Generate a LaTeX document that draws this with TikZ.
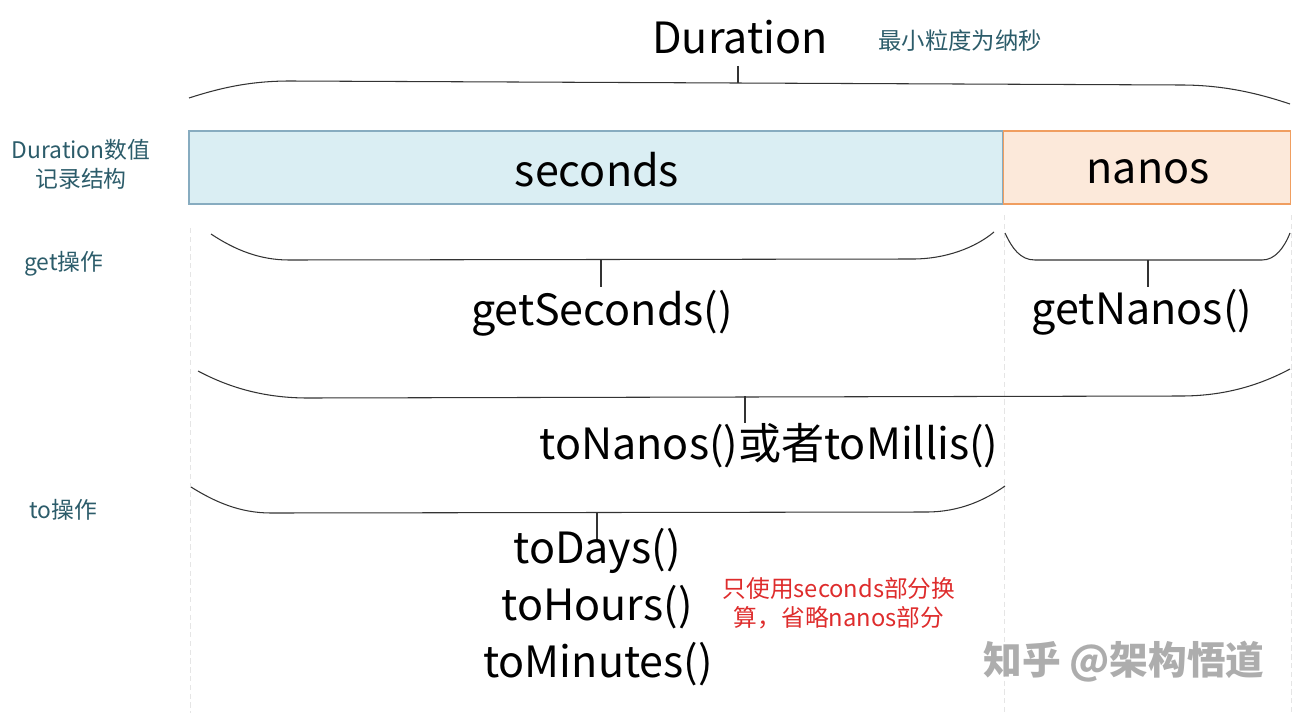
\documentclass[tikz,border=0pt]{standalone}
\usepackage{fontspec}
\setmainfont{Noto Sans CJK SC}
\definecolor{labelteal}{RGB}{44,92,106}
\definecolor{noteRed}{RGB}{222,44,44}
\definecolor{secfill}{RGB}{218,238,243}
\definecolor{secdraw}{RGB}{135,172,192}
\definecolor{nanofill}{RGB}{252,233,218}
\definecolor{nanodraw}{RGB}{240,158,96}

\begin{document}
\begin{tikzpicture}[x=0.02cm,y=-0.02cm,
    bigtext/.style={inner sep=0pt,font=\fontsize{24.5}{30}\selectfont},
    rowlabel/.style={inner sep=0pt,text=labelteal,align=center,font=\fontsize{13}{16.5}\selectfont},
    field/.style={line width=0.8pt,minimum height=1.46cm,inner sep=0pt},
    braceline/.style={draw=black!80,line width=0.6pt},
    guide/.style={draw=black!10,line width=0.4pt,dash pattern=on 3pt off 2pt}]
    \useasboundingbox (0,0) rectangle (1293,713);

    % faint column guides
    \draw[guide] (190,228) -- (190,713);
    \draw[guide] (1004,215) -- (1004,713);
    \draw[guide] (1291,215) -- (1291,713);

    % title
    \node[bigtext] (dur) at (740,37) {Duration};
    \node[rowlabel,anchor=west,font=\fontsize{13.3}{16.5}\selectfont] (grain) at (878,41) {最小粒度为纳秒};
    \draw[braceline] (189,98) .. controls (220,88) and (250,81) .. (290,81) -- (1181,85)
        .. controls (1225,85) and (1260,94) .. (1290,104);
    \coordinate (tkd1) at (738,66);
    \coordinate (tkd2) at (738,83);
    \draw[braceline] (tkd1) -- (tkd2);

    % value fields
    \node[rowlabel] (rec) at (81,164) {Duration数值\\记录结构};
    \node[field,draw=secdraw,fill=secfill,minimum width=16.28cm] (secbox) at (596,167.5) {};
    \node[field,draw=nanodraw,fill=nanofill,minimum width=5.74cm] (nanobox) at (1147,167.5) {};
    \node[bigtext] (seconds) at (597,170) {seconds};
    \node[bigtext] (nanos) at (1148,172) {nanos};

    % get
    \node[rowlabel] (getop) at (64,264) {get操作};
    \draw[braceline] (211,234) .. controls (235,250) and (260,260) .. (289,260) -- (913,259)
        .. controls (945,259) and (975,248) .. (994,232);
    \draw[braceline] (1005,233) .. controls (1012,248) and (1020,260) .. (1035,260) -- (1262,260)
        .. controls (1275,260) and (1284,248) .. (1290,233);
    \coordinate (tkg1) at (601,260);
    \coordinate (tkg2) at (601,287);
    \coordinate (tkn1) at (1148,260);
    \coordinate (tkn2) at (1148,287);
    \draw[braceline] (tkg1) -- (tkg2);
    \draw[braceline] (tkn1) -- (tkn2);
    \node[bigtext] (getsec) at (602,313) {getSeconds()};
    \node[bigtext] (getnano) at (1142,312) {getNanos()};

    % to
    \node[rowlabel] (toop) at (63,510) {to操作};
    \draw[braceline] (198,371) .. controls (230,388) and (265,398) .. (308,398) -- (1181,396)
        .. controls (1225,396) and (1260,385) .. (1290,369);
    \coordinate (tkt1) at (745,396);
    \coordinate (tkt2) at (745,423);
    \draw[braceline] (tkt1) -- (tkt2);
    \node[bigtext] (tonano) at (769,446) {toNanos()或者toMillis()};
    \draw[braceline] (191,487) .. controls (215,502) and (240,513) .. (271,513) -- (926,512)
        .. controls (960,512) and (985,500) .. (1005,486);
    \coordinate (tks1) at (597,513);
    \coordinate (tks2) at (597,541);
    \draw[braceline] (tks1) -- (tks2);
    \node[bigtext] (todays) at (597,551) {toDays()};
    \node[bigtext] (tohours) at (597,607) {toHours()};
    \node[bigtext] (tomin) at (598,664) {toMinutes()};
    \node[rowlabel,text=noteRed,font=\fontsize{13.5}{16.5}\selectfont] (secnote) at (839,603) {只使用seconds部分换\\算，省略nanos部分};

    % watermark
    \node[inner sep=0pt,text=black!32,font=\fontsize{22}{26}\selectfont\bfseries] (mark) at (1124,662) {知乎 @架构悟道};
\end{tikzpicture}
\end{document}
